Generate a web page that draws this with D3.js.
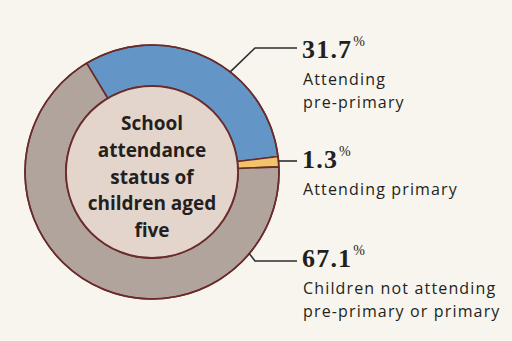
<!DOCTYPE html>
<html><head><meta charset="utf-8">
<script src="https://cdn.jsdelivr.net/npm/d3@7"></script>
<style>html,body{margin:0;padding:0;background:#f8f5ee;}svg{display:block;}</style>
</head><body>
<script>
const categories = ["Attending pre-primary", "Attending primary", "Children not attending pre-primary or primary"];
const values = [31.7, 1.3, 67.1];
const valueLabels = ["31.7", "1.3", "67.1"];
const labelLines = [["Attending", "pre-primary"], ["Attending primary"], ["Children not attending", "pre-primary or primary"]];
const centerTitle = ["School", "attendance", "status of", "children aged", "five"];
const colors = ["#6396c7", "#f1c46b", "#b0a49c"];

const W = 512, H = 341;
const cx = 152, cy = 172, rOuter = 127, rInner = 86;
const svg = d3.select("body").append("svg").attr("width", W).attr("height", H);
svg.append("rect").attr("width", W).attr("height", H).attr("fill", "#f8f5ee");

const start = -31 * Math.PI / 180;
const pie = d3.pie().sort(null).value(d => d).startAngle(start).endAngle(start + 2 * Math.PI);
const arcs = pie(values);
const arc = d3.arc().innerRadius(rInner).outerRadius(rOuter);
const g = svg.append("g").attr("transform", `translate(${cx},${cy})`);
g.selectAll("path.slice").data(arcs).join("path").attr("class", "slice")
  .attr("d", arc).attr("fill", (d, i) => colors[i])
  .attr("stroke", "#6a2b2b").attr("stroke-width", 1.6).attr("stroke-linejoin", "round");
g.append("circle").attr("r", rInner).attr("fill", "#e3d5cb").attr("stroke", "#6a2b2b").attr("stroke-width", 1.8);
g.append("circle").attr("r", rOuter).attr("fill", "none").attr("stroke", "#6a2b2b").attr("stroke-width", 1.6);

// center title
const ct = g.append("text").attr("text-anchor", "middle")
  .attr("font-family", "'Open Sans', sans-serif").attr("font-weight", 700)
  .attr("font-size", 19).attr("fill", "#231f20");
centerTitle.forEach((t, i) => ct.append("tspan").attr("x", 0).attr("y", -42 + i * 26.8).text(t));

// leaders + labels
const textX = 302;
const numY = [58, 168, 267];
const leaderAngles = [38, null, 130];
const leaderElbowY = [48, 161, 261];
const leaderElbowX = [255, null, 255];
const leaderEndX = 297;

arcs.forEach((d, i) => {
  let pts;
  if (leaderAngles[i] === null) {
    const mid = (d.startAngle + d.endAngle) / 2;
    const ax = cx + Math.sin(mid) * rOuter;
    pts = [[ax, leaderElbowY[i]], [leaderEndX, leaderElbowY[i]]];
  } else {
    const a = leaderAngles[i] * Math.PI / 180;
    const px = cx + Math.sin(a) * rOuter, py = cy - Math.cos(a) * rOuter;
    pts = [[px, py], [leaderElbowX[i], leaderElbowY[i]], [leaderEndX, leaderElbowY[i]]];
  }
  svg.append("path").attr("d", d3.line()(pts)).attr("fill", "none")
    .attr("stroke", "#2e2e2e").attr("stroke-width", 1.6);

  const num = svg.append("text").attr("x", textX).attr("y", numY[i])
    .attr("font-family", "'Liberation Serif', serif").attr("font-weight", 700)
    .attr("font-size", 26).attr("letter-spacing", 1.2).attr("fill", "#231f20").text(valueLabels[i]);
  const nw = num.node().getComputedTextLength();
  svg.append("text").attr("x", textX + nw + 1).attr("y", numY[i] - 12)
    .attr("font-family", "'Liberation Serif', serif")
    .attr("font-size", 14).attr("fill", "#231f20").text("%");

  labelLines[i].forEach((t, j) => {
    svg.append("text").attr("x", textX + 1).attr("y", numY[i] + 27 + j * 22.5)
      .attr("font-family", "'Open Sans', sans-serif").attr("font-size", 16)
      .attr("letter-spacing", 1.15).attr("fill", "#231f20").text(t);
  });
});
</script>
</body></html>
